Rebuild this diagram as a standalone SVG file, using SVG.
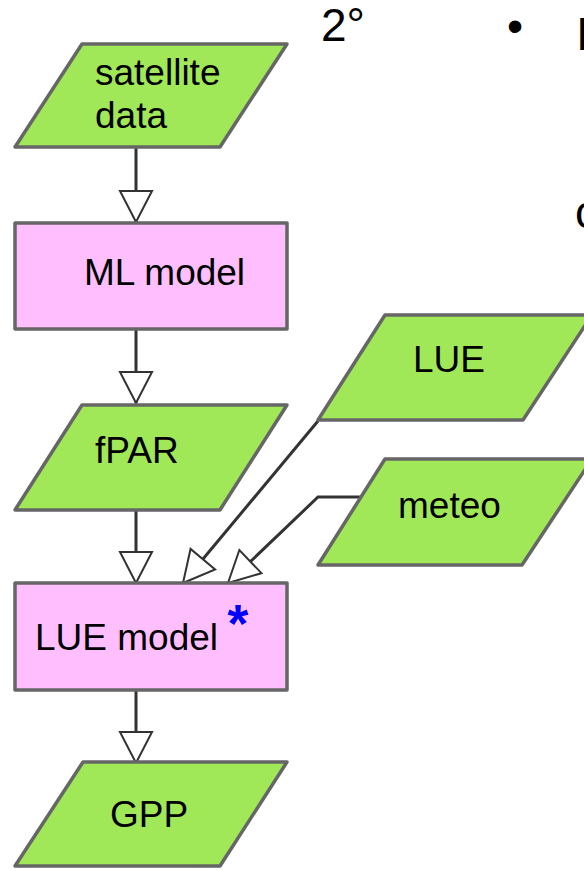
<svg xmlns="http://www.w3.org/2000/svg" width="584" height="870" viewBox="0 0 584 870">
  <style>
    .data { fill: #a0e858; stroke: #666666; stroke-width: 3.5; stroke-linejoin: round; }
    .proc { fill: #ffbfff; stroke: #666666; stroke-width: 3.5; stroke-linejoin: round; }
    .lbl { font-family: "Liberation Sans", Arial, sans-serif; font-size: 37px; fill: #000000; }
    .big { font-family: "Liberation Sans", Arial, sans-serif; font-size: 46px; fill: #000000; }
    .edge { fill: none; stroke: #333333; stroke-width: 3; }
  </style>
  <defs>
    <marker id="open-tri" markerUnits="userSpaceOnUse" markerWidth="36" markerHeight="36" viewBox="-33 -18 36 36" refX="0" refY="0" orient="auto">
      <path d="M0,0 L-31,-16 L-31,16 Z" fill="#ffffff" stroke="#333333" stroke-width="2" stroke-linejoin="miter"/>
    </marker>
  </defs>

  <rect width="584" height="870" fill="#ffffff"/>

  <!-- slide text on the right -->
  <text class="big" x="321" y="41">2°</text>
  <text class="big" x="507" y="42">•</text>
  <text class="big" x="576" y="50">I</text>
  <text class="big" x="575" y="228">c</text>

  <!-- connectors -->
  <g id="edges">
    <path class="edge" d="M136,148 L136,222" marker-end="url(#open-tri)"/>
    <path class="edge" d="M136,329 L136,403" marker-end="url(#open-tri)"/>
    <path class="edge" d="M136,510 L136,583" marker-end="url(#open-tri)"/>
    <path class="edge" d="M136,690 L136,763" marker-end="url(#open-tri)"/>
    <path class="edge" d="M318,421 L183,583" marker-end="url(#open-tri)"/>
    <path class="edge" d="M362,497 L318,497 L228,583" marker-end="url(#open-tri)"/>
  </g>

  <g id="satellite-data">
    <polygon class="data" points="82,44 287,44 220,147 15,147"/>
    <text class="lbl" x="95" y="85">satellite</text>
    <text class="lbl" x="95" y="128">data</text>
  </g>

  <g id="ml-model">
    <rect class="proc" x="15" y="223" width="272" height="106"/>
    <text class="lbl" x="84" y="285">ML model</text>
  </g>

  <g id="fpar">
    <polygon class="data" points="82,405 287,405 220,510 15,510"/>
    <text class="lbl" x="95" y="463">fPAR</text>
  </g>

  <g id="lue">
    <polygon class="data" points="385,315 592,315 523,420 318,420"/>
    <text class="lbl" x="413" y="372">LUE</text>
  </g>

  <g id="meteo">
    <polygon class="data" points="385,459 592,459 522,565 318,565"/>
    <text class="lbl" x="398" y="518">meteo</text>
  </g>

  <g id="lue-model">
    <rect class="proc" x="15" y="583" width="272" height="107"/>
    <text class="lbl" x="35" y="650">LUE model</text>
    <text x="238" y="642" text-anchor="middle" font-family="Liberation Sans, Arial, sans-serif" font-size="54" font-weight="bold" fill="#0000ff">*</text>
  </g>

  <g id="gpp">
    <polygon class="data" points="83,762 287,762 220,866 15,866"/>
    <text class="lbl" x="110" y="827">GPP</text>
  </g>
</svg>
